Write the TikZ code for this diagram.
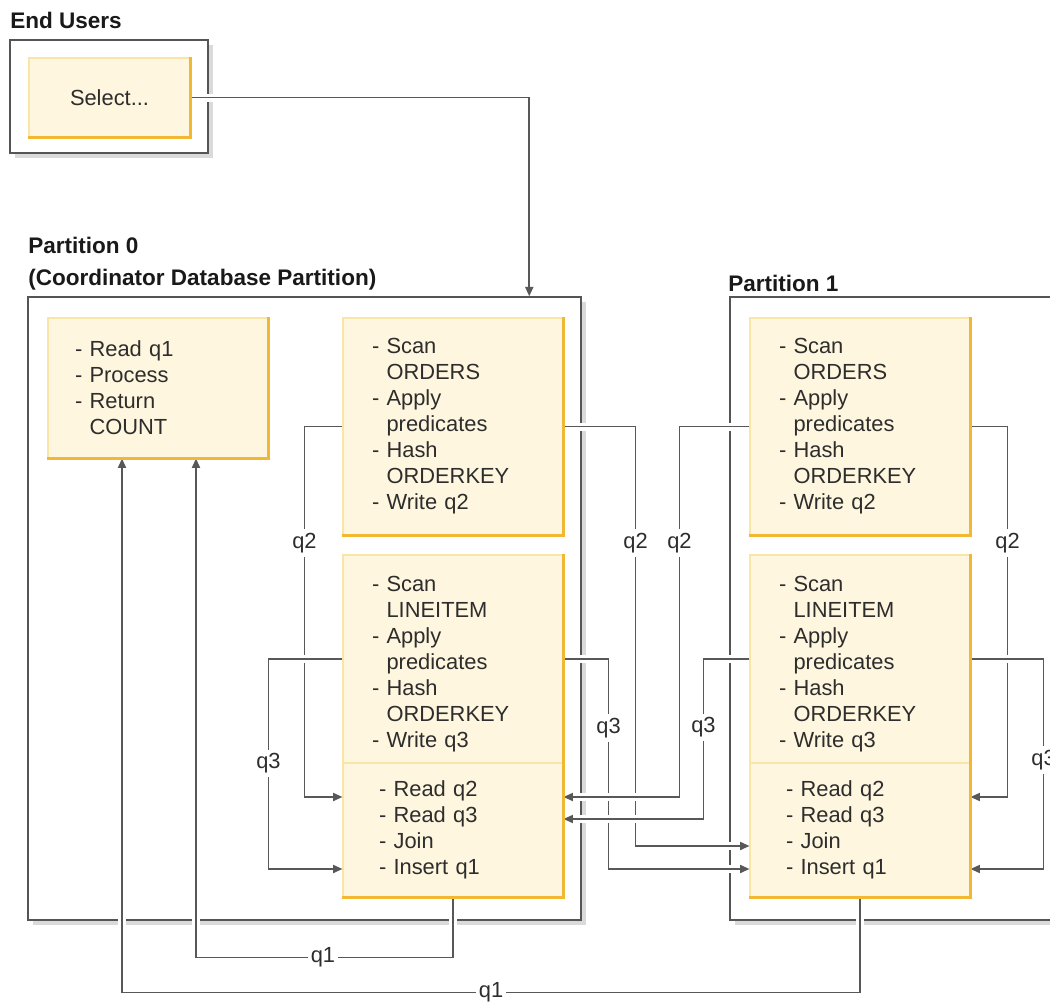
\documentclass[tikz,border=0pt]{standalone}
\usepackage{fontspec}
\setmainfont{Liberation Sans}
\usepackage{tikz}
\usetikzlibrary{positioning,arrows.meta,calc,fit,shadows}
\definecolor{opfill}{RGB}{254,246,222}
\definecolor{oprim}{RGB}{249,229,165}
\definecolor{opedge}{RGB}{242,184,52}
\definecolor{wiregray}{RGB}{88,88,88}
\definecolor{framegray}{RGB}{85,85,85}
\definecolor{shadegray}{RGB}{218,218,218}
\definecolor{inktext}{RGB}{45,45,45}
\newcommand\opind{\phantom{- }}
\tikzset{
  optxt/.style={font=\fontsize{16.4}{19.5}\selectfont, text=inktext},
  opbox/.style={optxt, fill=opfill, draw=oprim, line width=0.8pt, inner sep=0pt, minimum width=165pt, text width=#1, align=left},
  opbox/.default=121.5pt,
  part/.style={draw=framegray, line width=1.1pt, fill=white, inner sep=0pt, drop shadow={shadow xshift=4pt, shadow yshift=-4pt, fill=shadegray, opacity=1}},
  ttl/.style={font=\fontsize{16.9}{20}\selectfont\bfseries, text=black!90, inner sep=0pt, anchor=base west},
  wire/.style={draw=wiregray, line width=1.3pt, preaction={draw=white, line width=6pt, -}},
  lbl/.style={optxt, fill=white, inner xsep=2pt, inner ysep=3pt},
  arr/.style={wire, -{Triangle[length=7pt,width=6pt]}},
}
\begin{document}
\begin{tikzpicture}[x=0.75pt, y=-0.75pt]
  \useasboundingbox (0,0) rectangle (1050,1003);
  % titles
  \node[ttl] (tEU) at (10,28) {End Users};
  \node[ttl] (tP0) at (28,253) {Partition 0};
  \node[ttl] (tP0b) at (28,285) {(Coordinator Database Partition)};
  \node[ttl] (tP1) at (728,291) {Partition 1};
  % frames
  \node[part, fit={(10,40) (208,153)}] (eu) {};
  \node[part, fit={(28,297) (581,920)}] (p0) {};
  \node[part, fit={(730,297) (1090,920)}] (p1) {};
  % operators
  \node[opbox=100pt, align=center, minimum width=120.75pt, minimum height=59.25pt] (sel) at (109.5,97.5) {Select...};
  \node[opbox=124.5pt, minimum height=105pt] (rdA) at (158,388) {- Read q1\\- Process\\- Return\\\opind COUNT};
  \foreach \p/\dx in {A/0, B/407}{
    \node[opbox, minimum height=162.75pt] (ord\p) at (453+\dx,426.5) {- Scan\\\opind ORDERS\\- Apply\\\opind predicates\\- Hash\\\opind ORDERKEY\\- Write q2};
    \node[opbox, minimum height=156pt] (lin\p) at (453+\dx,659) {\rule{0pt}{19.5pt}- Scan\\\opind LINEITEM\\- Apply\\\opind predicates\\- Hash\\\opind ORDERKEY\\- Write q3};
    \node[opbox=111pt, minimum height=100.5pt] (jn\p) at (453+\dx,830) {- Read q2\\- Read q3\\- Join\\- Insert q1};
  }
  \coordinate (rq2) at (0,797);
  \coordinate (rq3) at (0,819);
  \coordinate (rjn) at (0,846);
  \coordinate (rin) at (0,869);
  % table queues
  \draw[arr] (sel.east) -| ($(p0.north west)+(502,0)$);
  \draw[arr] (ordA.west) -- ++(-38,0) |- node[lbl,pos=.157]{q2} (jnA.west |- rq2);
  \draw[arr] (ordA.east) -- ++(72,0) |- node[lbl,pos=.139]{q2} (jnB.west |- rjn);
  \draw[arr] (ordB.east) -- ++(37,0) |- node[lbl,pos=.157]{q2} (jnB.east |- rq2);
  \draw[arr] (linA.east) -- ++(45,0) |- node[lbl,pos=.164]{q3} (jnB.west |- rin);
  \draw[arr] (jnA.south) -- ++(0,60) -| node[lbl,pos=.253]{q1} ($(rdA.south)+(38,0)$);
  \draw[arr] (jnB.south) -- ++(0,95) -| node[lbl,pos=.25]{q1} ($(rdA.south)+(-36,0)$);
  \draw[arr] (linA.west) -- ++(-74,0) |- node[lbl,pos=.249]{q3} (jnA.west |- rin);
  \draw[arr] (linB.east) -- ++(73,0) |- node[lbl,pos=.24]{q3} (jnB.east |- rin);
  \draw[arr] (ordB.west) -- ++(-70,0) |- node[lbl,pos=.157]{q2} (jnA.east |- rq2);
  \draw[arr] (linB.west) -- ++(-46,0) |- node[lbl,pos=.214]{q3} (jnA.east |- rq3);
  % orange rims
  \foreach \n in {sel,rdA,ordA,jnA,ordB,jnB}
    \draw[opedge, line width=2.4pt] (\n.north east) -- (\n.south east) -- (\n.south west);
  \foreach \n in {linA,linB}
    \draw[opedge, line width=2.4pt] (\n.north east) -- (\n.south east);
\end{tikzpicture}
\end{document}
